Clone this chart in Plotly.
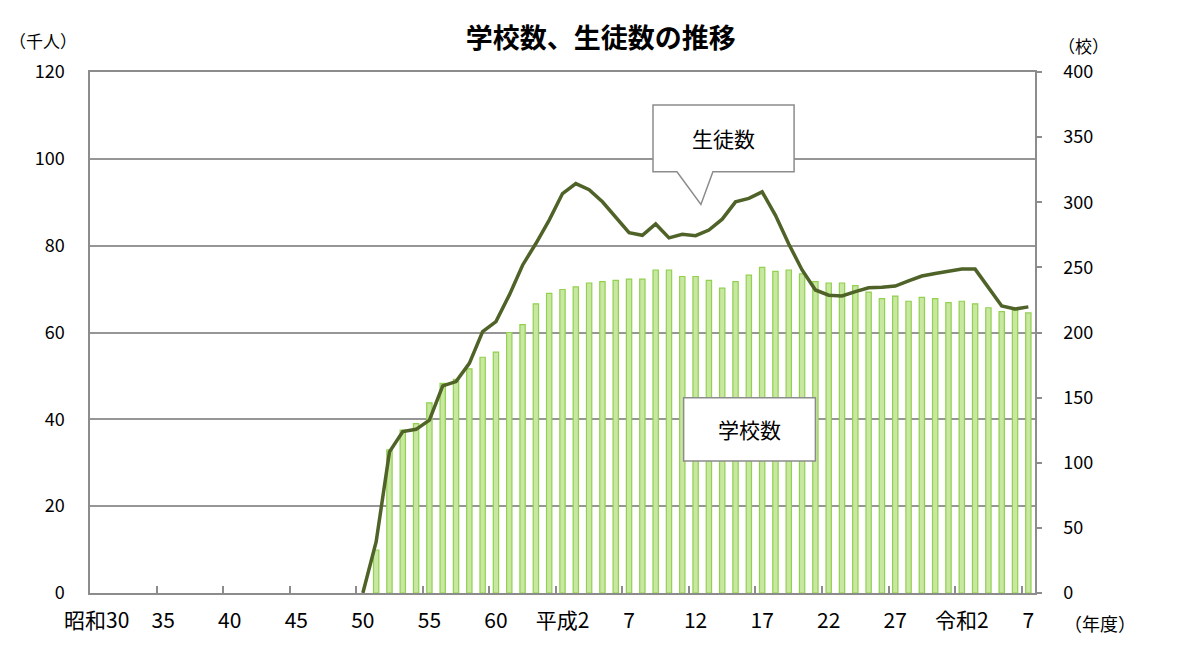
import plotly.graph_objects as go

# 年度（西暦）
student_years = list(range(1975, 2026))
school_years = list(range(1976, 2026))

# 生徒数（千人）
students = [
    0, 11.8, 32.5, 37.2, 37.7, 39.8, 47.7, 48.7, 52.9, 60.2,
    62.5, 68.6, 75.5, 80.5, 85.9, 92.0, 94.3, 92.9, 90.1, 86.7,
    83.0, 82.4, 85.0, 81.8, 82.6, 82.3, 83.6, 86.1, 90.1, 90.9,
    92.4, 87.0, 80.4, 74.4, 69.8, 68.6, 68.4, 69.4, 70.3, 70.4,
    70.7, 71.9, 73.0, 73.6, 74.2, 74.6, 74.6, 70.2, 66.1, 65.4,
    65.9,
]

# 学校数（校）
schools = [
    33, 110, 125, 130, 146, 161, 164, 172, 181, 185,
    200, 206, 222, 230, 233, 235, 238, 239, 240, 241,
    241, 248, 248, 243, 243, 240, 234, 239, 244, 250,
    247, 248, 245, 239, 238, 238, 236, 231, 226, 228,
    224, 227, 226, 223, 224, 222, 219, 216, 217, 215,
]

tick_years = [1955, 1960, 1965, 1970, 1975, 1980, 1985, 1990,
              1995, 2000, 2005, 2010, 2015, 2020, 2025]
tick_labels = ["昭和30", "35", "40", "45", "50", "55", "60", "平成2",
               "7", "12", "17", "22", "27", "令和2", "7"]

FONT = "Noto Sans CJK JP"
GRAY = "#8c8c8c"

fig = go.Figure()

# 学校数（棒、右軸）
fig.add_trace(go.Bar(
    x=school_years,
    y=schools,
    yaxis="y",
    width=0.4,
    marker=dict(color="rgb(200,231,160)", line=dict(color="rgb(146,208,80)", width=1.2)),
    name="学校数",
))

# 生徒数（折れ線、左軸）
fig.add_trace(go.Scatter(
    x=student_years,
    y=students,
    yaxis="y2",
    mode="lines",
    line=dict(color="#4f6228", width=3.5),
    name="生徒数",
))

# 吹き出し
callout_students = ("M 1996.8,112.4 L 2007.4,112.4 L 2007.4,97.0 L 2001.3,97.0 "
                    "L 2000.4,89.5 L 1998.6,97.0 L 1996.8,97.0 Z")
callout_schools = "M 1999.1,45.0 L 2009.0,45.0 L 2009.0,30.4 L 1999.1,30.4 Z"

for p in [callout_students, callout_schools]:
    fig.add_shape(type="path", path=p, xref="x", yref="y2", layer="above",
                  fillcolor="white", line=dict(color=GRAY, width=1.5))

fig.add_annotation(x=2002.1, y=104.7, xref="x", yref="y2", text="生徒数",
                   showarrow=False, font=dict(size=21, color="black", family=FONT))
fig.add_annotation(x=2004.05, y=37.7, xref="x", yref="y2", text="学校数",
                   showarrow=False, font=dict(size=21, color="black", family=FONT))

# 単位
units = [
    ("（千人）", -0.05, 1.061, 17),
    ("（校）", 1.051, 1.05, 17),
    ("（年度）", 1.069, -0.058, 18),
]
for text, ux, uy, size in units:
    fig.add_annotation(x=ux, y=uy, xref="paper", yref="paper", text=text,
                       xanchor="center", yanchor="middle", showarrow=False,
                       font=dict(size=size, color="black", family=FONT))

fig.update_layout(
    width=1200,
    height=670,
    margin=dict(l=82, r=173, t=64, b=85),
    plot_bgcolor="white",
    paper_bgcolor="white",
    showlegend=False,
    font=dict(family=FONT, color="black"),
    title=dict(
        text="<b>学校数、生徒数の推移</b>",
        font=dict(size=27, color="black", family=FONT),
        xref="container", x=0.494, xanchor="center",
        yref="container", y=0.955, yanchor="middle",
    ),
    xaxis=dict(
        range=[1954.5, 2025.5],
        tickmode="array",
        tickvals=tick_years,
        ticktext=tick_labels,
        ticks="",
        tickfont=dict(size=21),
        ticklabelstandoff=8,
        showgrid=False,
        zeroline=False,
        showline=True,
        linecolor=GRAY,
        linewidth=1.5,
        mirror=True,
        minor=dict(
            tickmode="array",
            tickvals=[y - 0.5 for y in tick_years[1:]],
            ticks="inside",
            ticklen=7,
            tickwidth=1.5,
            tickcolor=GRAY,
            showgrid=False,
        ),
    ),
    yaxis=dict(
        side="right",
        range=[0, 400],
        dtick=50,
        ticks="outside",
        ticklen=5,
        tickwidth=1.5,
        tickcolor=GRAY,
        tickfont=dict(size=18),
        ticklabelstandoff=18,
        showgrid=False,
        zeroline=False,
        showline=True,
        linecolor=GRAY,
        linewidth=1.5,
    ),
    yaxis2=dict(
        overlaying="y",
        side="left",
        range=[0, 120],
        dtick=20,
        ticks="",
        tickfont=dict(size=18),
        ticklabelstandoff=20,
        showgrid=True,
        gridcolor="#969696",
        gridwidth=1.5,
        zeroline=False,
        showline=True,
        linecolor=GRAY,
        linewidth=1.5,
    ),
)

fig.write_html("out.html")
